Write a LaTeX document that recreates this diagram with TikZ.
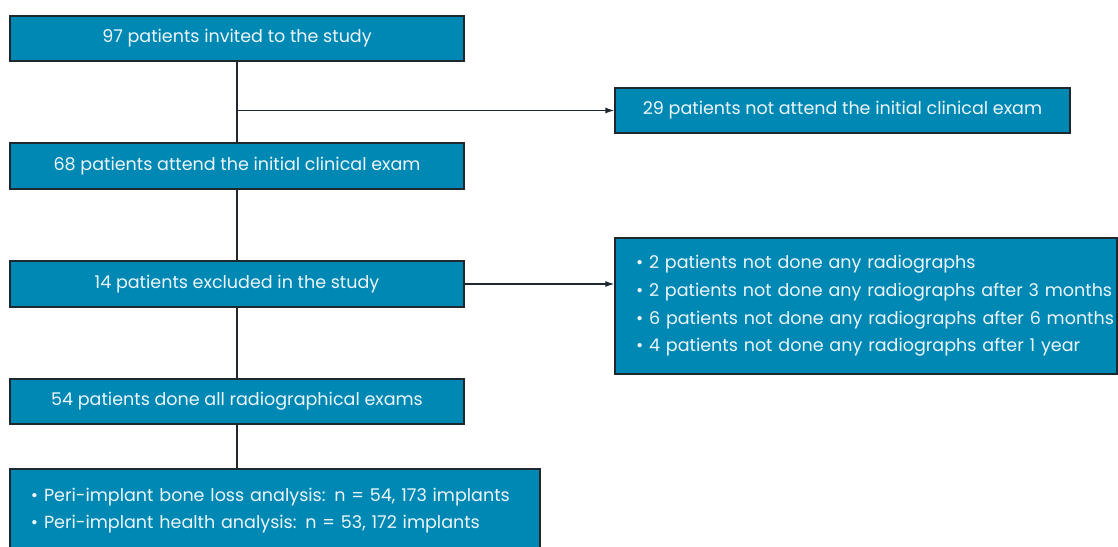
\documentclass[tikz,border=0pt]{standalone}
\usepackage{fontspec}
\setmainfont{Poppins}
\usetikzlibrary{arrows.meta}
\definecolor{boxblue}{RGB}{0,136,181}
\definecolor{boxedge}{RGB}{30,40,45}
\definecolor{boxtext}{RGB}{236,246,250}
\newcommand{\listitem}{\hspace*{18bp}\textbullet\ }
\tikzset{
  flowbox/.style={draw=boxedge, line width=1.2bp, fill=boxblue, text=boxtext,
    inner sep=0pt, font=\fontsize{17.6}{27.7}\selectfont, anchor=center},
  listbox/.style={flowbox, align=left, inner xsep=3bp},
  link/.style={draw=boxedge, line width=1.3bp},
  arrowlink/.style={link, -{Latex[length=9bp,width=6bp]}}
}
\begin{document}
\begin{tikzpicture}[x=1bp,y=-1bp]
\useasboundingbox (0,0) rectangle (1118,547);
\clip (0,0) rectangle (1118,547);
\node[flowbox, minimum width=454bp, minimum height=45bp] (b1) at (237,38.5) {97 patients invited to the study};
\node[flowbox, minimum width=455bp, minimum height=45bp] (b2) at (842.5,110.5) {29 patients not attend the initial clinical exam};
\node[flowbox, minimum width=454bp, minimum height=46bp] (b3) at (237,166) {68 patients attend the initial clinical exam};
\node[flowbox, minimum width=454bp, minimum height=46bp] (b4) at (237,284) {14 patients excluded in the study};
\node[listbox, text width=496bp, minimum height=136bp] (b5) at (866,306) {\listitem 2 patients not done any radiographs\\
\listitem 2 patients not done any radiographs after 3 months\\
\listitem 6 patients not done any radiographs after 6 months\\
\listitem 4 patients not done any radiographs after 1 year};
\node[flowbox, minimum width=454bp, minimum height=45bp] (b6) at (237,401.5) {54 patients done all radiographical exams};
\node[listbox, text width=524bp, minimum height=83bp] (b7) at (275,510.5) {\listitem Peri-implant bone loss analysis: n = 54, 173 implants\\
\listitem Peri-implant health analysis: n = 53, 172 implants};
\coordinate (j1) at (b1.south |- b2.west);
\coordinate (j2) at (b4.east -| b5.west);
\coordinate (j3) at (b6.south |- b7.north);
\draw[link] (b1.south) -- (b3.north);
\draw[arrowlink] (j1) -- (b2.west);
\draw[link] (b3.south) -- (b4.north);
\draw[arrowlink] (b4.east) -- (j2);
\draw[link] (b4.south) -- (b6.north);
\draw[link] (b6.south) -- (j3);
\end{tikzpicture}
\end{document}
